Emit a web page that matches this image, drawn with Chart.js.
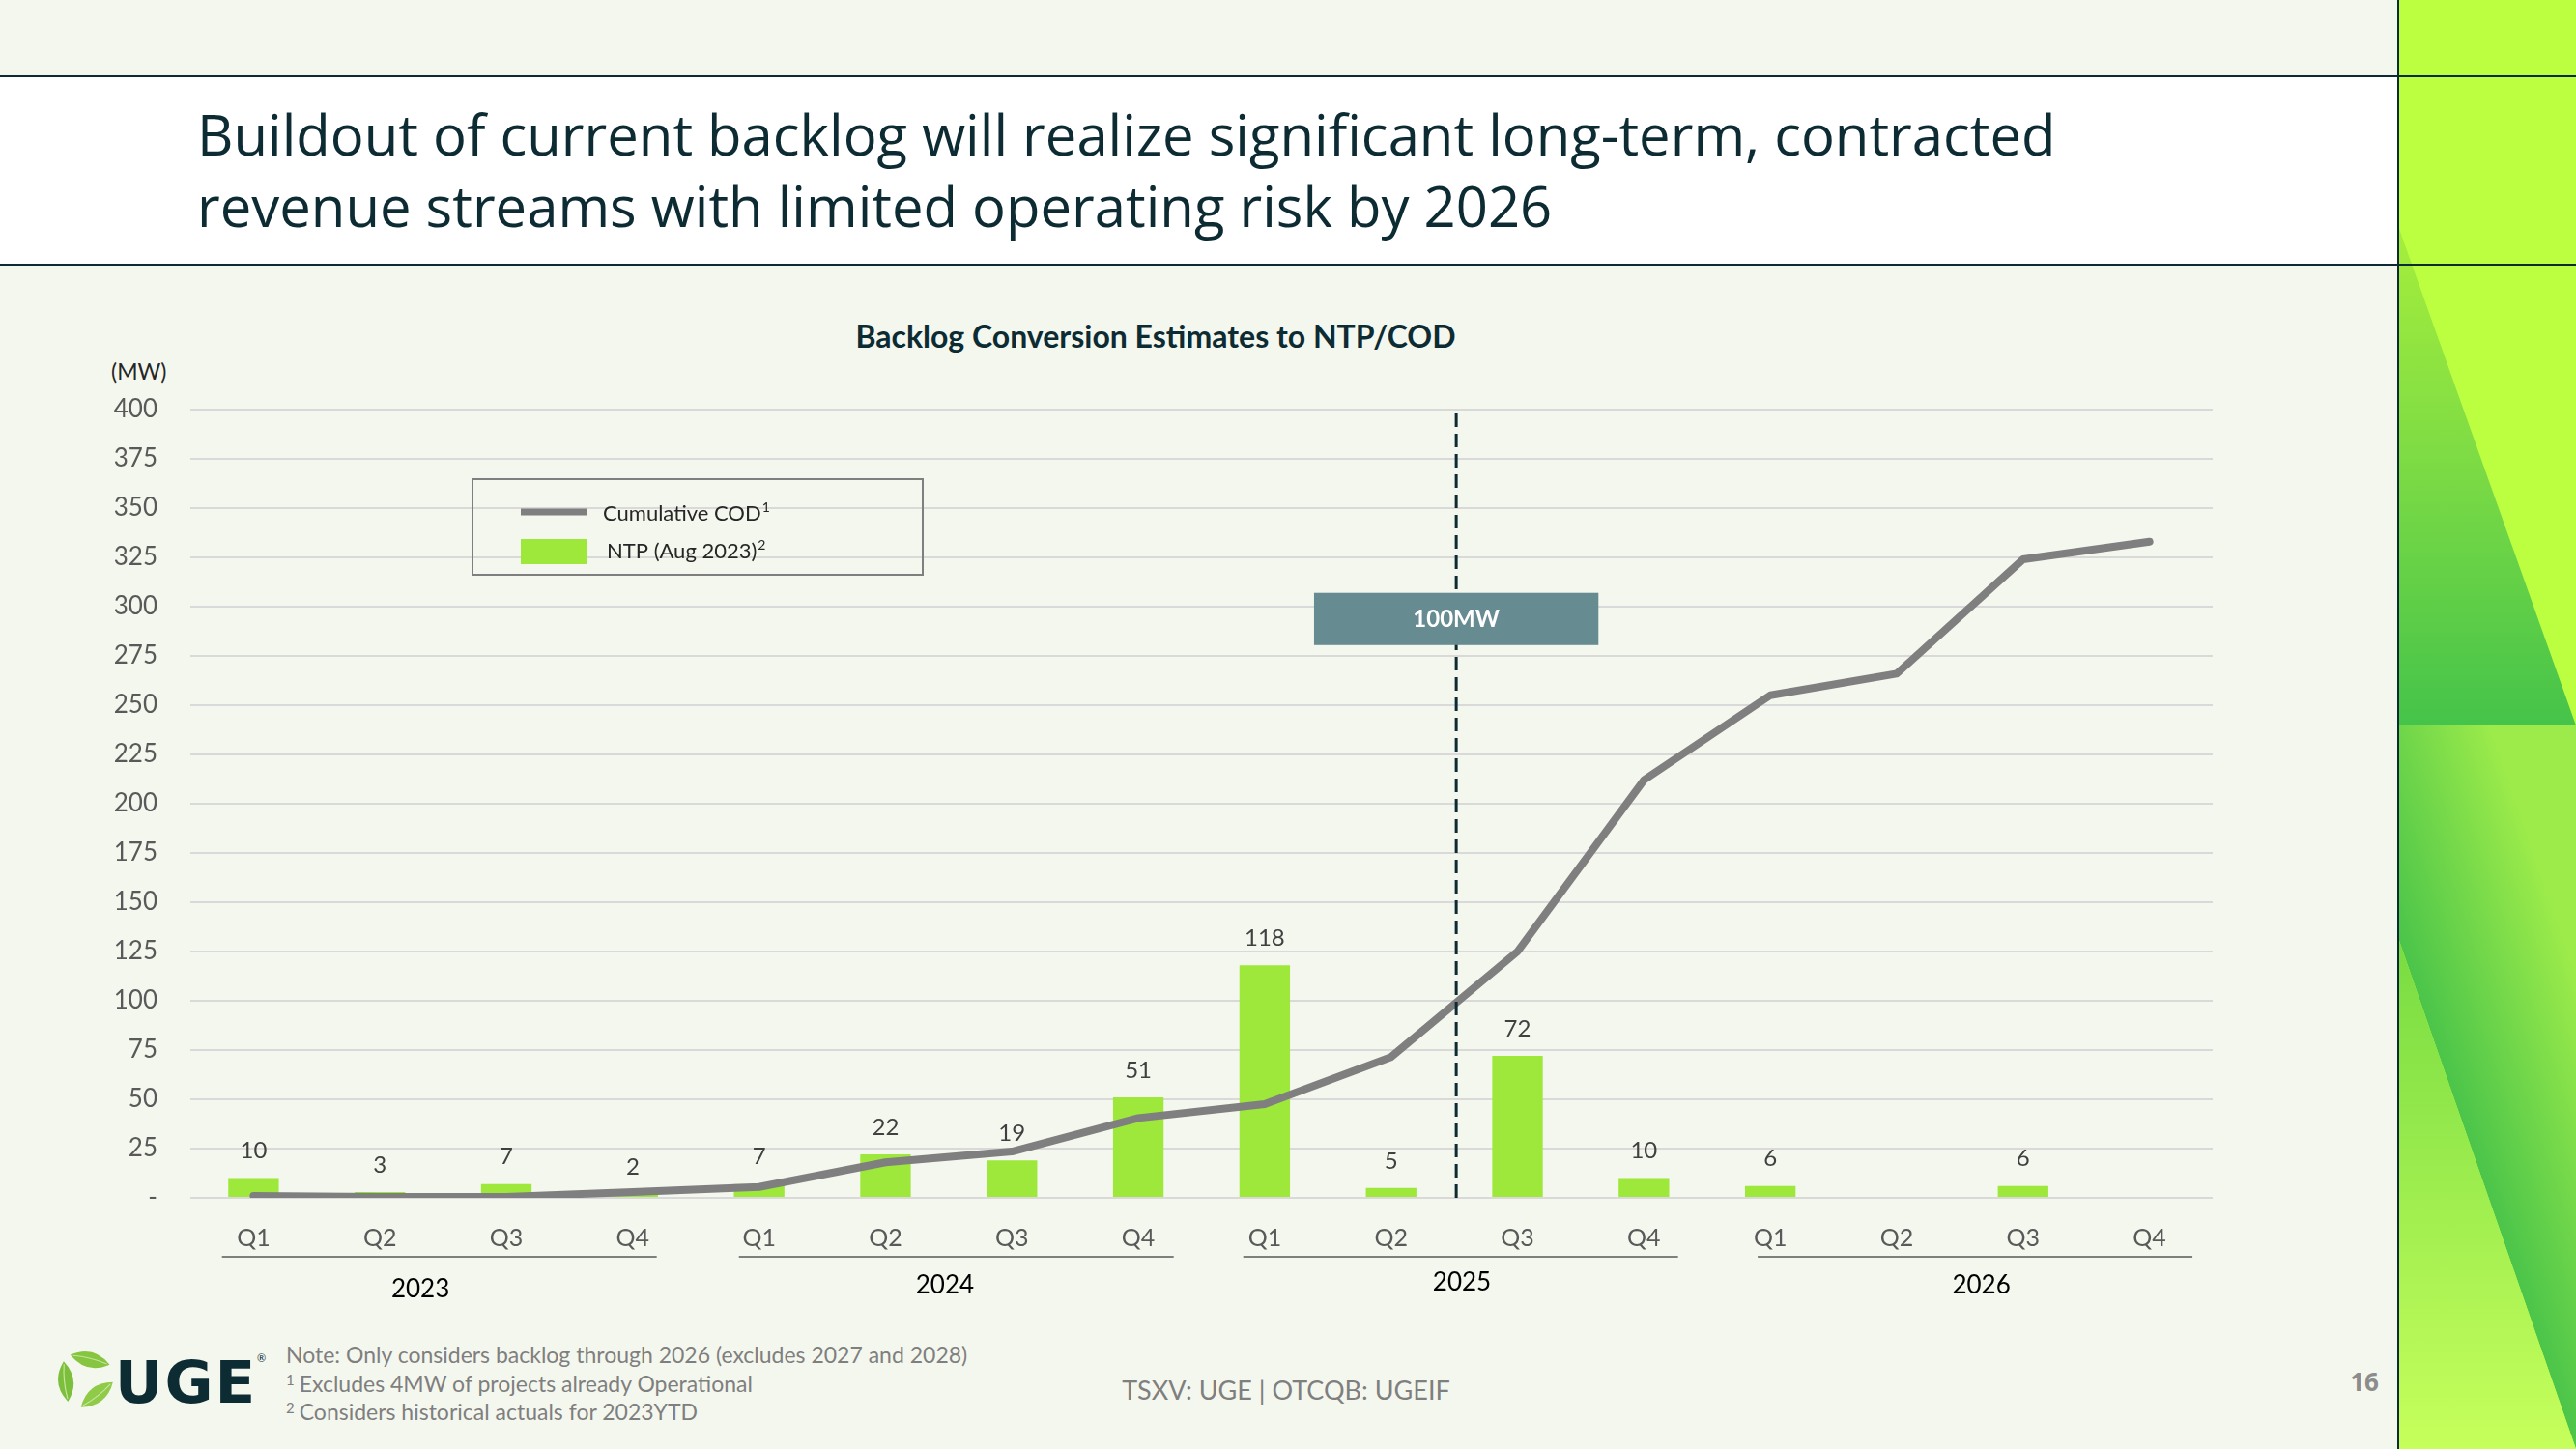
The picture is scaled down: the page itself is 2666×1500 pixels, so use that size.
<!DOCTYPE html>
<html>
<head>
<meta charset="utf-8">
<script src="https://cdn.jsdelivr.net/npm/chart.js@4.4.0/dist/chart.umd.min.js"></script>
<style>
html,body{margin:0;padding:0;}
body{width:2666px;height:1500px;position:relative;overflow:hidden;background:#f4f7ee;font-family:Lato, "Open Sans", sans-serif;}
#band{position:absolute;left:0;top:80px;width:2482px;height:194px;background:#ffffff;}
.hl{position:absolute;left:0;width:2666px;height:2px;background:#0d2b33;z-index:3;}
#panel{position:absolute;left:2482px;top:0;width:184px;height:1500px;background:#bcff40;overflow:hidden;}
#vline{position:absolute;left:2481px;top:0;width:2px;height:1500px;background:#0d2b33;z-index:4;}
.tri{position:absolute;left:0;width:184px;}
#t1{top:234px;height:517px;clip-path:polygon(0 0,184px 517px,0 517px);background:linear-gradient(to bottom,#a6ee3c 0%,#7fdc44 45%,#45c34a 100%);}
#t2{top:751px;height:749px;clip-path:polygon(0 0,184px 0,184px 749px,0 220px);background:linear-gradient(71deg,#44c14a 38%,#9ceb4a 80%);}
#t3{top:751px;height:749px;clip-path:polygon(0 220px,184px 749px,0 749px);background:linear-gradient(to bottom,#78dc42 30%,#c6ff5c 100%);}
#title{position:absolute;left:204px;top:102px;font-family:"Open Sans",sans-serif;font-size:58px;line-height:74px;color:#0d2b33;white-space:nowrap;}
#ctitle{position:absolute;left:1196px;top:347px;transform:translate(-50%,-50%);font-family:Lato,sans-serif;font-weight:bold;font-size:32px;color:#0d2b33;white-space:nowrap;}
#mw{position:absolute;left:115px;top:384px;transform:translateY(-50%);font-size:23px;color:#262626;}
#chartwrap{position:absolute;left:0;top:0;width:2482px;height:1500px;z-index:2;}
#notes{position:absolute;left:296px;top:1388px;font-size:23px;line-height:29.5px;color:#7f7f7f;white-space:nowrap;}
#notes sup{font-size:15px;vertical-align:7px;line-height:0;margin-right:5px;}
#ticker{position:absolute;left:1331px;top:1438px;transform:translate(-50%,-50%);font-size:27px;color:#7f7f7f;white-space:nowrap;}
#page{position:absolute;left:2447px;top:1430px;transform:translate(-50%,-50%);font-family:"Open Sans",sans-serif;font-weight:bold;font-size:26px;color:#8c8c8c;}
#logo{position:absolute;left:56px;top:1396px;}
#uge{position:absolute;left:119px;top:1430px;transform:translateY(-50%);font-family:"DejaVu Sans",sans-serif;font-weight:bold;font-size:61px;letter-spacing:2px;color:#0d2b33;}
#reg{position:absolute;left:266px;top:1399px;font-size:11px;color:#0d2b33;}
</style>
</head>
<body>
<div id="band"></div>
<div class="hl" style="top:78px"></div>
<div class="hl" style="top:273px"></div>
<div id="panel">
  <div class="tri" id="t1"></div>
  <div class="tri" id="t2"></div>
  <div class="tri" id="t3"></div>
</div>
<div id="vline"></div>
<div id="title">Buildout of current backlog will realize significant long-term, contracted<br>revenue streams with limited operating risk by 2026</div>
<div id="ctitle">Backlog Conversion Estimates to NTP/COD</div>
<div id="mw">(MW)</div>
<div id="chartwrap"><canvas id="c" width="2482" height="1500"></canvas></div>
<div id="notes">Note: Only considers backlog through 2026 (excludes 2027 and 2028)<br><sup>1</sup>Excludes 4MW of projects already Operational<br><sup>2</sup>Considers historical actuals for 2023YTD</div>
<div id="ticker">TSXV: UGE | OTCQB: UGEIF</div>
<div id="page">16</div>
<svg id="logo" width="64" height="64" viewBox="0 0 64 64">
  <g transform="translate(32,32)">
    <g transform="rotate(-76) translate(21,0) rotate(90)">
      <path d="M-21,0 Q0,-16 21,0 Q0,16 -21,0 Z" fill="#86c540"/>
      <path d="M-18,0 Q0,-3 18,0" stroke="#c4e59a" stroke-width="1.2" fill="none"/>
    </g>
    <g transform="rotate(174) translate(20,0) rotate(90)">
      <path d="M-21,0 Q0,-16 21,0 Q0,16 -21,0 Z" fill="#7cbf3d"/>
      <path d="M-18,0 Q0,-3 18,0" stroke="#c4e59a" stroke-width="1.2" fill="none"/>
    </g>
    <g transform="rotate(52) translate(20,0) rotate(90)">
      <path d="M-21,0 Q0,-16 21,0 Q0,16 -21,0 Z" fill="#8fca48"/>
      <path d="M-18,0 Q0,-3 18,0" stroke="#c4e59a" stroke-width="1.2" fill="none"/>
    </g>
  </g>
</svg>
<div id="uge">UGE</div>
<div id="reg">®</div>

<script>
// ---- data ----
const quarterLabels = ['Q1','Q2','Q3','Q4','Q1','Q2','Q3','Q4','Q1','Q2','Q3','Q4','Q1','Q2','Q3','Q4'];
const yearLabels = ['2023','2024','2025','2026'];
const ntpValues = [10, 3, 7, 2, 7, 22, 19, 51, 118, 5, 72, 10, 6, null, 6, null];
const cumulativeCOD = [1, 0.5, 0.5, 3, 5.5, 18, 23.5, 40.5, 47.5, 71.5, 125, 212, 255, 266, 324, 333];
const seriesNames = ['Cumulative COD', 'NTP (Aug 2023)'];
const seriesFootnotes = ['1', '2'];
const markerText = '100MW';
const yMin = 0, yMax = 400, yStep = 25;

const FONT = 'Lato, "Open Sans", sans-serif';

const yearGroupPlugin = {
  id: 'yearGroups',
  afterDraw(chart, args, opts) {
    const x = chart.scales.x, ctx = chart.ctx, b = chart.chartArea.bottom;
    const cat = x.getPixelForValue(1) - x.getPixelForValue(0);
    ctx.save();
    yearLabels.forEach((yr, g) => {
      const x0 = x.getPixelForValue(g * 4), x3 = x.getPixelForValue(g * 4 + 3);
      const mid = (x0 + x3) / 2;
      const lc = mid + opts.lineShift[g] * cat;
      ctx.strokeStyle = '#7f7f7f';
      ctx.lineWidth = 2;
      ctx.beginPath();
      ctx.moveTo(lc - opts.halfWidth * cat, b + 61);
      ctx.lineTo(lc + opts.halfWidth * cat, b + 61);
      ctx.stroke();
      ctx.fillStyle = '#000000';
      ctx.font = '26px ' + FONT;
      ctx.textAlign = 'center';
      ctx.textBaseline = 'middle';
      ctx.fillText(yr, mid + opts.labelShift[g] * cat, b + 91 + opts.labelDy[g]);
    });
    ctx.restore();
  }
};

const dataLabelPlugin = {
  id: 'barLabels',
  afterDatasetsDraw(chart) {
    const ctx = chart.ctx;
    const meta = chart.getDatasetMeta(1);
    ctx.save();
    ctx.fillStyle = '#404040';
    ctx.font = '24px ' + FONT;
    ctx.textAlign = 'center';
    ctx.textBaseline = 'middle';
    meta.data.forEach((el, i) => {
      const v = ntpValues[i];
      if (v === null || v === undefined) return;
      ctx.fillText(String(v), el.x, el.y - 28);
    });
    ctx.restore();
  }
};

const markerPlugin = {
  id: 'marker',
  afterDatasetsDraw(chart) {
    const x = chart.scales.x, y = chart.scales.y, ctx = chart.ctx, a = chart.chartArea;
    const cat = x.getPixelForValue(1) - x.getPixelForValue(0);
    const mx = (x.getPixelForValue(9) + x.getPixelForValue(10)) / 2 + 2;
    ctx.save();
    ctx.strokeStyle = '#0d2b33';
    ctx.lineWidth = 3;
    ctx.setLineDash([14, 7]);
    ctx.beginPath();
    ctx.moveTo(mx, a.top + 4);
    ctx.lineTo(mx, a.bottom);
    ctx.stroke();
    ctx.setLineDash([]);
    const top = y.getPixelForValue(307), bot = y.getPixelForValue(280.5);
    const w = cat * 2.25;
    ctx.fillStyle = '#668c92';
    ctx.fillRect(mx - w / 2, top, w, bot - top);
    ctx.fillStyle = '#ffffff';
    ctx.font = 'bold 24px ' + FONT;
    ctx.textAlign = 'center';
    ctx.textBaseline = 'middle';
    ctx.fillText(markerText, mx, (top + bot) / 2 + 1);
    ctx.restore();
  }
};

const legendPlugin = {
  id: 'boxLegend',
  afterDraw(chart) {
    const ctx = chart.ctx;
    const lineDs = chart.data.datasets[0], barDs = chart.data.datasets[1];
    ctx.save();
    ctx.strokeStyle = '#7f7f7f';
    ctx.lineWidth = 2;
    ctx.strokeRect(489, 496, 466, 99);
    ctx.strokeStyle = lineDs.borderColor;
    ctx.lineWidth = 7;
    ctx.beginPath();
    ctx.moveTo(539, 530);
    ctx.lineTo(608, 530);
    ctx.stroke();
    ctx.fillStyle = barDs.backgroundColor;
    ctx.fillRect(539, 558, 69, 26);
    ctx.fillStyle = '#262626';
    ctx.textAlign = 'left';
    ctx.textBaseline = 'middle';
    const items = [[lineDs.label, seriesFootnotes[0], 624, 532], [barDs.label, seriesFootnotes[1], 628, 571]];
    items.forEach(([txt, sup, tx, ty]) => {
      ctx.font = '22px ' + FONT;
      ctx.fillText(txt, tx, ty);
      const w = ctx.measureText(txt).width;
      ctx.font = '14px ' + FONT;
      ctx.fillText(sup, tx + w + 1, ty - 7);
    });
    ctx.restore();
  }
};

new Chart(document.getElementById('c'), {
  data: {
    labels: quarterLabels,
    datasets: [
      {
        type: 'line',
        label: seriesNames[0],
        data: cumulativeCOD,
        borderColor: '#7f7f7f',
        borderWidth: 8,
        pointRadius: 0,
        tension: 0,
        borderJoinStyle: 'round',
        borderCapStyle: 'round',
        order: 0
      },
      {
        type: 'bar',
        label: seriesNames[1],
        data: ntpValues,
        backgroundColor: '#9de83a',
        barPercentage: 0.8,
        categoryPercentage: 0.5,
        order: 1
      }
    ]
  },
  options: {
    responsive: false,
    animation: false,
    devicePixelRatio: 1,
    layout: { padding: { top: 424, right: 192, left: 0, bottom: 0 } },
    plugins: {
      legend: { display: false },
      tooltip: { enabled: false },
      title: { display: false },
      yearGroups: {
        lineShift: [-0.03, 0.06, 0.05, 0.12],
        labelShift: [-0.18, -0.03, 0.06, 0.17],
        labelDy: [4, 0, -3, 0],
        halfWidth: 1.72
      }
    },
    scales: {
      x: {
        grid: { display: false, drawTicks: false },
        border: { display: false },
        ticks: { color: '#595959', font: { size: 25, family: FONT }, padding: 27, maxRotation: 0, autoSkip: false },
        afterFit(s) { s.height = 260; }
      },
      y: {
        min: yMin, max: yMax,
        grid: { color: '#d9d9d9', lineWidth: 2, drawTicks: false },
        border: { display: false },
        ticks: {
          stepSize: yStep,
          color: '#595959',
          font: { size: 26, family: FONT },
          padding: 34,
          callback: v => v === 0 ? '-' : String(v)
        },
        afterFit(s) { s.width = 197; }
      }
    }
  },
  plugins: [yearGroupPlugin, markerPlugin, dataLabelPlugin, legendPlugin]
});
</script>
</body>
</html>
